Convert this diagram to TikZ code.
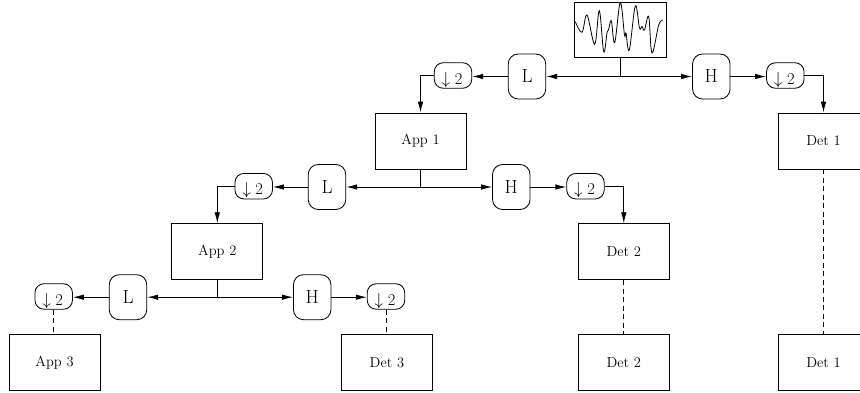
\documentclass[tikz,border=0pt]{standalone}
\usetikzlibrary{arrows.meta}
\begin{document}
\begin{tikzpicture}[x=1pt,y=-1pt,line width=0.85pt,
  arr/.style={-{Latex[length=11pt,width=5.5pt]}},
  darr/.style={{Latex[length=11pt,width=5.5pt]}-{Latex[length=11pt,width=5.5pt]}},
  blk/.style={draw,minimum width=91pt,minimum height=56pt,inner sep=0pt,font=\fontsize{14.5}{17}\selectfont},
  filt/.style={draw,rounded corners=10pt,minimum width=37.5pt,minimum height=45pt,inner sep=0pt,font=\fontsize{19}{22}\selectfont},
  dec/.style={draw,rounded corners=9pt,minimum width=37.5pt,minimum height=25.5pt,inner sep=0pt,font=\fontsize{16.5}{19}\selectfont},
  dsh/.style={dashed,dash pattern=on 5pt off 3.5pt}]
\newcommand{\dnt}{\raisebox{-8.5pt}[0pt][0pt]{\hspace*{-2pt}$\downarrow$\hspace{4.5pt}2}}
\useasboundingbox (0,0) rectangle (860,392);
% signal
\node[draw,minimum width=92pt,minimum height=55pt,inner sep=0pt] (sig) at (620.8,30) {};
\draw[line width=0.8pt] plot[smooth,tension=0.6] coordinates {(575.3,21.7) (582,32.3) (587,15) (594.7,44.3) (599.3,10.7) (603.7,51.7) (607,33) (608.5,30) (611.3,20.7) (614.7,42.7) (620.3,2.5) (624.5,35) (626,33) (629.3,50) (635.3,6) (639.5,28) (642,26.5) (644.5,30) (648.7,16.7) (652,53) (658.7,25) (662.7,20)};
% level 1
\node[filt] (L1) at (527,76.5) {L};
\node[filt] (H1) at (711.3,76.5) {H};
\node[dec] (dL1) at (453,75.5) {\dnt};
\node[dec] (dH1) at (785.3,75.5) {\dnt};
\node[blk] (A1) at (420.5,141) {App 1};
\node[blk] (D1) at (823.5,141) {Det 1};
\node[blk] (D1b) at (823.5,362.5) {Det 1};
\draw[darr] (L1.east) -- (H1.west);
\draw (sig.south) -- (sig.south |- L1.east);
\draw[arr] (L1.west) -- (L1.west -| dL1.east);
\draw[arr] (H1.east) -- (H1.east -| dH1.west);
\draw[arr] (dL1.west) -| (A1.north);
\draw[arr] (dH1.east) -| (D1.north);
\draw[dsh] (D1.south) -- (D1b.north);
% level 2
\node[filt] (L2) at (327,187) {L};
\node[filt] (H2) at (511.3,187) {H};
\node[dec] (dL2) at (253.7,186.2) {\dnt};
\node[dec] (dH2) at (585.5,186.2) {\dnt};
\node[blk] (A2) at (217.3,251.7) {App 2};
\node[blk] (D2) at (623.8,251.7) {Det 2};
\node[blk] (D2b) at (623.8,362.5) {Det 2};
\draw[darr] (L2.east) -- (H2.west);
\draw (A1.south) -- (A1.south |- L2.east);
\draw[arr] (L2.west) -- (L2.west -| dL2.east);
\draw[arr] (H2.east) -- (H2.east -| dH2.west);
\draw[arr] (dL2.west) -| (A2.north);
\draw[arr] (dH2.east) -| (D2.north);
\draw[dsh] (D2.south) -- (D2b.north);
% level 3
\node[filt] (L3) at (128,297.2) {L};
\node[filt] (H3) at (312.2,297.2) {H};
\node[dec] (dL3) at (53.7,296.5) {\dnt};
\node[dec] (dH3) at (386,296.5) {\dnt};
\node[blk] (A3) at (54.5,362.5) {App 3};
\node[blk] (D3) at (387,362.5) {Det 3};
\draw[darr] (L3.east) -- (H3.west);
\draw (A2.south) -- (A2.south |- L3.east);
\draw[arr] (L3.west) -- (L3.west -| dL3.east);
\draw[arr] (H3.east) -- (H3.east -| dH3.west);
\draw[dsh] (dL3.south) -- (dL3.south |- A3.north);
\draw[dsh] (dH3.south) -- (dH3.south |- D3.north);
\end{tikzpicture}
\end{document}
